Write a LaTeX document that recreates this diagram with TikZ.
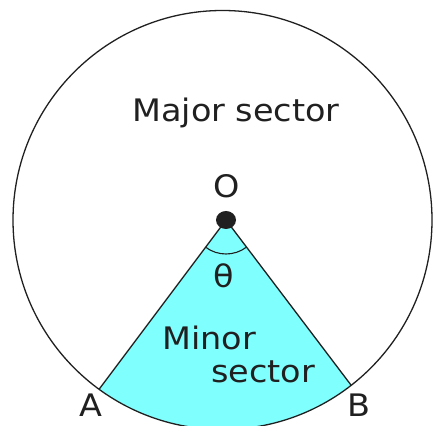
\documentclass[tikz,border=0pt]{standalone}
\usepackage{fontspec}
\setmainfont{DejaVu Sans}
\definecolor{sectorfill}{HTML}{80FFFF}
\definecolor{ink}{HTML}{202020}
\begin{document}
\begin{tikzpicture}[x=1pt,y=1pt,
  edge/.style={draw=ink,line width=1.3pt},
  lbl/.style={inner sep=0pt,anchor=base,text=ink,xscale=1.08,font=\fontsize{31}{36}\selectfont},
  lblw/.style={inner sep=0pt,anchor=base west,text=ink,xscale=1.08,font=\fontsize{31}{36}\selectfont}]
\useasboundingbox (0,0) rectangle (433,425);
\fill[white] (0,0) rectangle (433,425);
\begin{scope}
\clip (0,0) rectangle (433,425);
\coordinate (C) at (222.5,205);
\coordinate (O) at (226,205);
\coordinate (A) at ([shift={(233.9:209.5pt)}]C);
\coordinate (B) at ([shift={(307.9:209.5pt)}]C);
% minor sector fill
\fill[sectorfill] (O) -- (A) arc[start angle=233.9,end angle=307.9,radius=209.5pt] -- cycle;
% circle
\draw[edge] (C) circle[radius=209.5pt];
% radii
\draw[edge] (A) -- (O) -- (B);
% angle mark
\draw[edge,line width=1.1pt] ([shift={(233:34pt)}]O) arc[start angle=233,end angle=307,radius=34pt];
% centre dot
\fill[ink] (O) ellipse[x radius=10pt,y radius=9pt];
\end{scope}
% labels
\node[lbl] (maj) at (236,303) {Major sector};
\node[lbl] (o) at (227,227) {O};
\node[lbl] (th) at (224,137) {θ};
\node[lblw] (min1) at (162,75) {Minor};
\node[lblw] (min2) at (211,42) {sector};
\node[lbl] (a) at (91,9) {A};
\node[lbl] (b) at (359,9) {B};
\end{tikzpicture}
\end{document}
